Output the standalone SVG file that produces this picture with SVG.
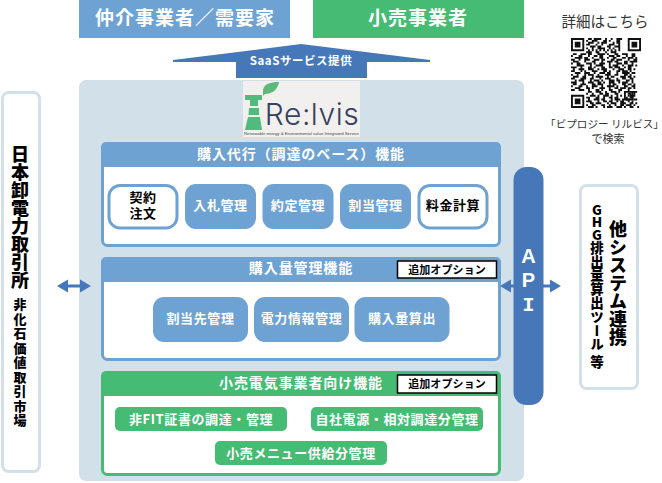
<svg xmlns="http://www.w3.org/2000/svg" width="662" height="483" viewBox="0 0 662 483">
<style>
text{font-family:"Noto Sans CJK JP","Noto Sans",sans-serif;font-weight:700;text-anchor:middle}
.w{fill:#fff}.k{fill:#000}
.top{font-size:19px;letter-spacing:1px}
.hd{font-size:14px;letter-spacing:.9px}
.bt{font-size:13px;letter-spacing:.6px}
.bd{font-size:11px;letter-spacing:.1px}
.v{writing-mode:vertical-rl;text-orientation:upright;fill:#000;font-weight:900}
.api{font-family:"Liberation Sans",sans-serif;font-size:20px}
.blue{fill:#6ea2d2}.green{fill:#45bb73}.lt{fill:#d2e0ea}.dk{fill:#4678b9}
.pb{fill:#fff;stroke:#6ea2d2;stroke-width:3}.pg{fill:#fff;stroke:#45bb73;stroke-width:3}
.wb{fill:#fff;stroke:#6ea2d2;stroke-width:3}
.side{fill:#fff;stroke:#d2e0ea;stroke-width:3}
.badge{fill:#fff;stroke:#000;stroke-width:1.5}
.dark{fill:#333;font-weight:400}
</style>
<g id="node-broker"><rect class="blue" x="79" y="0" width="211" height="38"/><text class="w top" x="185" y="25">仲介事業者／需要家</text></g>
<g id="node-retailer"><rect class="green" x="313" y="0" width="211" height="38"/><text class="w top" x="418" y="25">小売事業者</text></g>
<g id="node-saas"><polygon class="dk" points="301,44 430,60 430,62 367,62 367,78 236,78 236,62 173,62 173,60"/><text class="w" x="301" y="65" font-size="11.5" letter-spacing=".55">SaaSサービス提供</text></g>
<g id="node-platform"><rect class="lt" x="79" y="80" width="445" height="401" rx="7"/></g>
<g id="node-logo">
<rect x="243" y="81" width="117" height="56" fill="#f2f0ef"/>
<path d="M263 90C264 84 270 82 279 82C278 89 273 94 265 94L263 96Z" fill="#5fb878"/>
<path d="M245 95H262V100H258V106H250V100H245ZM249 108H259V115H248.500ZM248 117H260L262 130H245Z" fill="#4fbb7c"/>
<text x="312" y="125" font-size="30" fill="#35425f" style="font-family:Inter,sans-serif;font-weight:300;letter-spacing:.5px">Re:lvis</text>
<text x="301.500" y="135" font-size="4.300" fill="#444" style="font-family:'Liberation Sans',sans-serif;font-weight:400" textLength="115">Renewable energy &amp; Environmental value Integrated Service</text>
</g>
<g id="node-panel1"><rect class="pb" x="102.500" y="143.500" width="397" height="102" rx="5"/><path class="blue" d="M106 142H496a5 5 0 0 1 5 5V167H101V147a5 5 0 0 1 5-5Z"/><text class="w hd" x="301" y="159">購入代行（調達のベース）機能</text></g>
<g id="node-keiyaku"><rect class="wb" x="109" y="185.500" width="68" height="42.500" rx="11"/><text class="k bt" x="143" y="202">契約<tspan x="143" dy="16">注文</tspan></text></g>
<g id="node-nyusatsu"><rect class="blue" x="185" y="184" width="71" height="45" rx="11"/><text class="w bt" x="220.500" y="210">入札管理</text></g>
<g id="node-yakujo"><rect class="blue" x="262.500" y="184" width="71" height="45" rx="11"/><text class="w bt" x="298" y="210">約定管理</text></g>
<g id="node-wariate"><rect class="blue" x="340" y="184" width="71" height="45" rx="11"/><text class="w bt" x="375.500" y="210">割当管理</text></g>
<g id="node-ryokin"><rect class="wb" x="419" y="185.500" width="68" height="42.500" rx="11"/><text class="k bt" x="453" y="210">料金計算</text></g>
<g id="node-panel2"><rect class="pb" x="102.500" y="258.500" width="397" height="101" rx="5"/><path class="blue" d="M106 257H496a5 5 0 0 1 5 5V282H101V262a5 5 0 0 1 5-5Z"/><text class="w hd" x="301" y="273">購入量管理機能</text>
<rect class="badge" x="397.500" y="261" width="99" height="17"/><text class="k bd" x="447" y="273.500">追加オプション</text></g>
<g id="node-wariatesaki"><rect class="blue" x="153" y="297" width="95" height="45" rx="11"/><text class="w bt" x="200.500" y="323">割当先管理</text></g>
<g id="node-denryoku"><rect class="blue" x="254" y="297" width="95" height="45" rx="11"/><text class="w bt" x="301.500" y="323">電力情報管理</text></g>
<g id="node-kounyu"><rect class="blue" x="354.500" y="297" width="95" height="45" rx="11"/><text class="w bt" x="402" y="323">購入量算出</text></g>
<g id="node-panel3"><rect class="pg" x="102.500" y="372.500" width="397" height="102" rx="5"/><path class="green" d="M106 371H496a5 5 0 0 1 5 5V396H101V376a5 5 0 0 1 5-5Z"/><text class="w hd" x="301" y="388">小売電気事業者向け機能</text>
<rect class="badge" x="397.500" y="375" width="99" height="18"/><text class="k bd" x="447" y="388">追加オプション</text></g>
<g id="node-hifit"><rect class="green" x="115" y="407" width="172" height="24" rx="5"/><text class="w bt" x="201" y="423.500">非FIT証書の調達・管理</text></g>
<g id="node-jisha"><rect class="green" x="311" y="407" width="172" height="24" rx="5"/><text class="w bt" x="397" y="423.500">自社電源・相対調達分管理</text></g>
<g id="node-menu"><rect class="green" x="215" y="441" width="172" height="24" rx="5"/><text class="w bt" x="301" y="457.500">小売メニュー供給分管理</text></g>
<g id="node-api"><rect class="dk" x="513.500" y="167" width="30" height="238" rx="13"/>
<text class="w api" x="528.500" y="263">A</text><text class="w api" x="528.500" y="287">P</text><text class="w api" x="528.500" y="311" style="font-family:'Liberation Mono',monospace">I</text></g>
<g id="node-jepx"><rect class="side" x="2.500" y="92.500" width="37" height="379" rx="6"/>
<text class="v" x="20" y="145" font-size="18" style="text-anchor:start">日本卸電力取引所</text>
<text class="v" x="20" y="298" font-size="13" letter-spacing="1.450" style="text-anchor:start">非化石価値取引市場</text></g>
<g id="node-other"><rect class="side" x="580.500" y="185.500" width="57" height="203" rx="6"/>
<text class="v" x="618" y="220" font-size="18" style="text-anchor:start">他システム連携</text>
<text class="v" x="597" y="203" font-size="13.500" style="text-anchor:start"><tspan letter-spacing="-1">GHG</tspan><tspan letter-spacing=".3">排出量算出ツール</tspan></text>
<text class="v" x="597" y="355" font-size="13.500" style="text-anchor:start">等</text></g>
<g id="connectors" fill="#4678b9" stroke="none">
<path d="M57 286L68 279.500V284.500H80V279.500L91 286L80 292.500V287.500H68V292.500Z"/>
<path d="M500 286L511 279.500V284.500H514V287.500H511V292.500Z"/>
<path d="M543 284.500H550V279.500L561 286L550 292.500V287.500H543Z"/>
</g>
<g id="node-qr">
<text class="dark" x="604.500" y="128" font-size="10.600">「ビプロジー リルビス」</text>
<text class="dark" x="605" y="27" font-size="14.500">詳細はこちら</text>
<text class="dark" x="608" y="143" font-size="11">で検索</text>
<g transform="translate(571 38) scale(1.892)">
<path fill="#111" fill-rule="evenodd" d="M0 0h7v7h-7zM1 1v5h5v-5zM2 2h3v3h-3zM30 0h7v7h-7zM31 1v5h5v-5zM32 2h3v3h-3zM0 30h7v7h-7zM1 31v5h5v-5zM2 32h3v3h-3zM28 28h5v5h-5zM29 29v3h3v-3zM30 30h1v1h-1z"/>
<path fill="none" stroke="#111" stroke-width="1" d="M9 .5h2m1 0h4m2 0h1m2 0h1m2 0h3
M8 1.500h1m2 0h3m3 0h2m1 0h1m3 0h2
M9 2.500h3m2 0h1m1 0h3m3 0h1m1 0h2
M8 3.500h2m3 0h1m2 0h1m3 0h3m2 0h1
M10 4.500h3m1 0h2m3 0h2m2 0h3
M8 5.500h1m2 0h1m2 0h4m2 0h1m1 0h1m2 0h1
M9 6.500h1m1 0h1m1 0h1m1 0h1m1 0h1m1 0h1m1 0h1m1 0h1m1 0h1
M8 7.500h3m2 0h2m3 0h1m2 0h3
M1 8.500h2m2 0h3m1 0h2m3 0h4m1 0h1m3 0h2m2 0h3m2 0h2
M0 9.500h1m3 0h2m3 0h1m2 0h2m1 0h2m3 0h3m1 0h2m3 0h1m2 0h2
M2 10.500h4m1 0h2m2 0h1m3 0h2m2 0h1m2 0h2m3 0h2m1 0h3m1 0h1
M0 11.500h2m2 0h1m2 0h3m2 0h3m1 0h2m3 0h2m1 0h3m3 0h1m2 0h2
M1 12.500h3m3 0h1m3 0h2m3 0h1m2 0h3m1 0h2m3 0h2m1 0h4
M0 13.500h1m2 0h2m3 0h3m1 0h1m2 0h3m2 0h1m3 0h3m1 0h2m2 0h1
M3 14.500h4m3 0h1m2 0h4m3 0h1m1 0h3m2 0h1m2 0h3m1 0h1
M0 15.500h3m2 0h1m3 0h2m1 0h1m3 0h2m2 0h2m1 0h3m2 0h1m1 0h2
M1 16.500h1m2 0h3m2 0h3m2 0h1m1 0h3m3 0h1m2 0h3m2 0h2m1 0h1
M0 17.500h2m3 0h1m1 0h1m3 0h3m3 0h2m1 0h1m3 0h2m1 0h3m1 0h1
M2 18.500h3m2 0h3m2 0h1m2 0h3m1 0h2m3 0h1m2 0h4m1 0h2
M0 19.500h1m2 0h1m3 0h1m1 0h3m2 0h1m3 0h3m2 0h2m3 0h2m1 0h1
M1 20.500h3m2 0h2m3 0h1m1 0h4m2 0h1m1 0h2m3 0h3m1 0h2m1 0h1
M0 21.500h2m3 0h3m2 0h2m3 0h1m2 0h3m3 0h1m2 0h2m2 0h2
M2 22.500h1m1 0h3m3 0h1m1 0h3m1 0h1m3 0h3m1 0h2m3 0h2m1 0h1
M0 23.500h3m3 0h1m2 0h3m2 0h2m1 0h1m2 0h3m2 0h1m1 0h3m2 0h1
M1 24.500h2m2 0h3m3 0h2m1 0h3m3 0h1m1 0h2m3 0h2m1 0h2m1 0h1
M0 25.500h1m3 0h2m2 0h1m2 0h3m2 0h1m2 0h4m1 0h1m3 0h2m2 0h2
M2 26.500h3m3 0h2m1 0h1m3 0h3m2 0h1m2 0h2m1 0h3m1 0h2m1 0h1
M0 27.500h2m2 0h3m2 0h1m3 0h2m1 0h1m3 0h2m3 0h2m3 0h1
M9 28.500h2m2 0h3m2 0h1m2 0h3m1 0h1m6 0h3
M8 29.500h1m2 0h1m3 0h2m1 0h2m3 0h2m5 0h2m1 0h1
M10 30.500h3m1 0h1m2 0h3m1 0h1m2 0h1m1 0h1m4 0h3
M8 31.500h2m3 0h2m2 0h1m2 0h2m1 0h2m4 0h1m1 0h2
M9 32.500h1m2 0h3m1 0h2m3 0h1m1 0h3m1 0h1m1 0h2m2 0h2
M8 33.500h3m3 0h1m2 0h2m1 0h2m2 0h1m1 0h2m2 0h1m1 0h1
M10 34.500h2m1 0h3m3 0h1m1 0h3m2 0h3m2 0h2m1 0h1
M8 35.500h1m2 0h2m3 0h2m2 0h1m2 0h1m2 0h2m1 0h3m1 0h1
M9 36.500h3m1 0h1m3 0h1m1 0h3m2 0h3m1 0h1m2 0h2m2 0h1"/>
</g>
</g>
</svg>
